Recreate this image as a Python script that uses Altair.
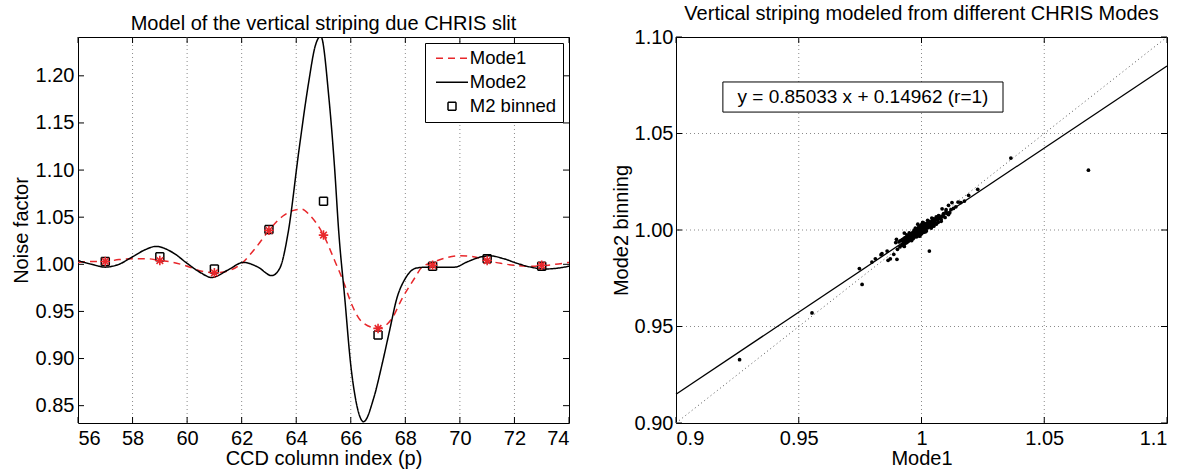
import altair as alt
import pandas as pd

FONT = "Liberation Sans"
RED = "#e8272b"

# ---------------- Left panel data ----------------
mode2_x = [56.0, 56.5, 57.0, 57.5, 58.0, 58.5, 58.85, 59.5, 60.0, 60.5, 60.9, 61.5, 62.07, 62.6,
           63.1, 63.4, 63.7, 64.1, 64.45, 64.7, 64.9, 65.2, 65.4, 65.56, 65.78, 66.0, 66.17,
           66.47, 66.84, 67.14, 67.41, 67.69, 68.0, 68.4, 68.8, 69.3, 69.8, 70.3, 70.8, 71.1,
           71.6, 72.1, 72.6, 73.1, 73.6, 74.0]
mode2_y = [1.004, 1.000, 0.997, 1.000, 1.008, 1.016, 1.019, 1.012, 1.001, 0.991, 0.986, 0.994, 1.002, 0.997,
           0.988, 0.996, 1.033, 1.121, 1.192, 1.232, 1.242, 1.176, 1.105, 1.034, 0.964, 0.893, 0.858,
           0.833, 0.858, 0.893, 0.928, 0.964, 0.985, 0.996, 0.997, 0.997, 0.997, 1.003, 1.008, 1.009,
           1.006, 1.001, 0.997, 0.995, 0.996, 0.998]

mode1_x = [56.0, 56.5, 57.0, 57.5, 58.0, 58.5, 59.0, 59.5, 60.0, 60.5, 61.0, 61.5, 62.0, 62.5,
           63.0, 63.5, 64.0, 64.2, 64.5, 65.0, 65.43, 65.74, 66.04, 66.41, 67.0, 67.51, 67.88,
           68.37, 68.61, 69.0, 69.5, 70.0, 70.5, 71.0, 71.5, 72.0, 72.5, 73.0, 73.5, 74.0]
mode1_y = [1.002, 1.003, 1.003, 1.005, 1.006, 1.006, 1.004, 1.002, 0.998, 0.993, 0.991, 0.993, 1.001, 1.017,
           1.036, 1.051, 1.058, 1.0585, 1.052, 1.031, 1.0025, 0.981, 0.957, 0.939, 0.932, 0.9425, 0.9636,
           0.9866, 0.997, 1.002, 1.007, 1.009, 1.008, 1.004, 1.001, 0.999, 0.998, 0.9985, 1.000, 1.002]

bin_x = [57, 59, 61, 63, 65, 67, 69, 71, 73]
mode1_pts_y = [1.003, 1.004, 0.991, 1.036, 1.031, 0.932, 0.999, 1.004, 0.999]
m2_binned_y = [1.003, 1.008, 0.995, 1.037, 1.067, 0.925, 0.998, 1.006, 0.998]

left_xticks = [56, 58, 60, 62, 64, 66, 68, 70, 72, 74]
left_yticks = [0.85, 0.90, 0.95, 1.00, 1.05, 1.10, 1.15, 1.20]
left_xdomain = [56, 74]
left_ydomain = [0.8316, 1.2412]
series_names = ["Mode1", "Mode2", "M2 binned"]

# ---------------- Right panel data ----------------
scatter_m1 = [0.9895, 0.9902, 0.9908, 0.9912, 0.9915, 0.9920, 0.9922, 0.9925, 0.9928, 0.9930,
              0.9933, 0.9935, 0.9937, 0.9940, 0.9942, 0.9944, 0.9946, 0.9948, 0.9950, 0.9952,
              0.9954, 0.9956, 0.9958, 0.9960, 0.9962, 0.9963, 0.9965, 0.9967, 0.9968, 0.9970,
              0.9971, 0.9973, 0.9974, 0.9976, 0.9977, 0.9979, 0.9980, 0.9982, 0.9983, 0.9985,
              0.9986, 0.9988, 0.9989, 0.9991, 0.9992, 0.9994, 0.9995, 0.9997, 0.9998, 1.0000,
              1.0001, 1.0003, 1.0004, 1.0006, 1.0007, 1.0009, 1.0011, 1.0013, 1.0015, 1.0017,
              1.0019, 1.0021, 1.0024, 1.0027, 1.0030, 1.0033, 1.0036, 1.0040, 1.0044, 1.0048,
              1.0052, 1.0057, 1.0062, 1.0068, 1.0074, 1.0080, 1.0088, 1.0096, 1.0105, 1.0115,
              1.0130, 1.0140, 1.0160, 1.0175,
              0.9965, 0.9975, 0.9985, 0.9995, 1.0005, 1.0015, 1.0025, 1.0035, 1.0045, 1.0055,
              1.0065, 1.0075, 1.0085, 0.9955, 0.9945, 0.9935, 0.9925, 1.0000, 0.9990, 0.9980,
              0.9970, 1.0010, 1.0020, 1.0030, 1.0060, 1.0070, 1.0090, 1.0100, 1.0120,
              0.9950, 0.9960, 0.9970, 0.9980, 0.9990, 1.0000, 1.0010, 1.0020, 1.0030, 1.0040,
              1.0050, 1.0060, 1.0070, 1.0080, 0.9985, 0.9995, 1.0005, 1.0015, 0.9975, 0.9965,
              0.9940, 0.9930, 1.0050, 1.0100, 1.0110, 1.0000, 1.0008, 0.9992, 1.0025, 1.0042,
              0.9930, 1.0032, 0.9900, 0.9873, 0.9839, 0.9812, 0.9798, 0.9747, 0.9758, 0.9554,
              0.9259, 1.0364, 1.0680, 1.0229, 1.0192, 1.0149, 1.0124, 1.0110, 1.0084, 1.0077,
              0.9835, 0.9860, 0.9864, 0.9887, 0.9898]
scatter_m2 = [0.9935, 0.9900, 0.9938, 0.9912, 0.9945, 0.9920, 0.9950, 0.9925, 0.9955, 0.9928,
              0.9960, 0.9932, 0.9958, 0.9935, 0.9965, 0.9940, 0.9968, 0.9943, 0.9972, 0.9948,
              0.9975, 0.9950, 0.9980, 0.9953, 0.9983, 0.9960, 0.9988, 0.9958, 0.9990, 0.9962,
              0.9992, 0.9968, 0.9996, 0.9970, 1.0000, 0.9972, 1.0003, 0.9975, 1.0005, 0.9978,
              1.0008, 0.9982, 1.0010, 0.9985, 1.0012, 0.9988, 1.0015, 0.9990, 1.0018, 0.9992,
              1.0020, 0.9995, 1.0022, 0.9998, 1.0025, 1.0002, 1.0028, 1.0005, 1.0030, 1.0008,
              1.0032, 1.0010, 1.0035, 1.0012, 1.0040, 1.0018, 1.0042, 1.0022, 1.0048, 1.0028,
              1.0055, 1.0035, 1.0060, 1.0040, 1.0066, 1.0055, 1.0078, 1.0065, 1.0085, 1.0090,
              1.0112, 1.0120, 1.0142, 1.0150,
              0.9972, 0.9982, 0.9992, 1.0000, 1.0008, 1.0018, 1.0025, 1.0032, 1.0038, 1.0048,
              1.0052, 1.0060, 1.0070, 0.9962, 0.9955, 0.9945, 0.9940, 1.0005, 0.9998, 0.9988,
              0.9978, 1.0015, 1.0022, 1.0028, 1.0068, 1.0072, 1.0085, 1.0095, 1.0105,
              0.9985, 0.9945, 1.0000, 0.9965, 1.0020, 0.9980, 1.0035, 0.9995, 1.0045, 1.0010,
              1.0058, 1.0030, 1.0075, 1.0045, 1.0030, 0.9975, 1.0040, 0.9990, 1.0010, 0.9955,
              0.9975, 0.9915, 1.0020, 1.0105, 1.0080, 1.0028, 0.9988, 0.9968, 1.0050, 1.0062,
              0.9984, 0.9891, 0.9848, 0.9851, 0.9877, 0.9851, 0.9834, 0.9800, 0.9718, 0.9570,
              0.9328, 1.0373, 1.0310, 1.0211, 1.0180, 1.0145, 1.0142, 1.0128, 1.0110, 1.0067,
              0.9872, 0.9891, 0.9843, 0.9874, 0.9952]

fit_x = [0.9, 1.1]
fit_y = [0.9149, 1.0850]
ident_x = [0.9, 1.1]
ident_y = [0.9, 1.1]
right_ticks = [0.9, 0.95, 1.0, 1.05, 1.1]
right_domain = [0.9, 1.1]
fit_label = "y = 0.85033 x + 0.14962 (r=1)"
label_box = {"x1": 0.9191, "x2": 1.0332, "y1": 1.0611, "y2": 1.0767}

W, H = 491, 386
TICK = 6
LBL = 20

# ---------------- Left panel ----------------
xs_l = alt.Scale(domain=left_xdomain, nice=False, zero=False)
ys_l = alt.Scale(domain=left_ydomain, nice=False, zero=False)
xax_l = alt.Axis(values=left_xticks, title="CCD column index (p)", format="d", grid=False,
                 ticks=False, tickSize=0, domain=False, labelPadding=5, titlePadding=0)
yax_l = alt.Axis(values=left_yticks, title="Noise factor", format=".2f", grid=False,
                 ticks=False, tickSize=0, domain=False, labelPadding=4, titlePadding=4)


def XL():
    return alt.X("x:Q", scale=xs_l, axis=xax_l)


def YL():
    return alt.Y("y:Q", scale=ys_l, axis=yax_l)


legend = alt.Legend(title=None, orient="none", legendX=347, legendY=6,
                    labelFont=FONT, labelFontSize=18.5, labelColor="black",
                    symbolSize=64, symbolStrokeWidth=1.5, symbolOffset=11.75, labelOffset=8.5,
                    symbolFillColor="white",
                    padding=6, rowPadding=5, strokeColor="black", fillColor="white",
                    cornerRadius=0)

color_scale = alt.Scale(domain=series_names, range=[RED, "black", "black"])
dash_scale = alt.Scale(domain=series_names, range=[[7, 5], [1, 0], [1, 0]])
shape_scale = alt.Scale(domain=series_names, range=["M-4,0L4,0", "M-4,0L4,0", "square"])

df_xt_l = pd.DataFrame({"x": left_xticks})
df_yt_l = pd.DataFrame({"y": left_yticks})

grid_l = alt.Chart(df_xt_l[(df_xt_l.x > 56) & (df_xt_l.x < 74)]).mark_rule(
    color="#8a8a8a", strokeDash=[1, 3], strokeWidth=1).encode(x=XL())
tk_b = alt.Chart(df_xt_l).mark_rule(color="black").encode(x=XL(), y=alt.value(H - TICK), y2=alt.value(H))
tk_t = alt.Chart(df_xt_l).mark_rule(color="black").encode(x=XL(), y=alt.value(0), y2=alt.value(TICK))
tk_l = alt.Chart(df_yt_l).mark_rule(color="black").encode(y=YL(), x=alt.value(0), x2=alt.value(TICK))
tk_r = alt.Chart(df_yt_l).mark_rule(color="black").encode(y=YL(), x=alt.value(W - TICK), x2=alt.value(W))

lines_df = pd.concat([
    pd.DataFrame({"x": mode1_x, "y": mode1_y, "series": "Mode1", "o": range(len(mode1_x))}),
    pd.DataFrame({"x": mode2_x, "y": mode2_y, "series": "Mode2", "o": range(len(mode2_x))}),
])
lines = alt.Chart(lines_df).mark_line(interpolate="monotone", strokeWidth=1.5, clip=True).encode(
    x=XL(), y=YL(),
    color=alt.Color("series:N", scale=color_scale, legend=legend),
    strokeDash=alt.StrokeDash("series:N", scale=dash_scale, legend=legend),
    order="o:Q",
)

bin_df = pd.DataFrame({"x": bin_x, "y": m2_binned_y, "series": "M2 binned"})
squares = alt.Chart(bin_df).mark_point(filled=False, strokeWidth=1.5, size=64, opacity=1).encode(
    x=XL(), y=YL(),
    color=alt.Color("series:N", scale=color_scale, legend=legend),
    shape=alt.Shape("series:N", scale=shape_scale, legend=legend),
    strokeDash=alt.StrokeDash("series:N", scale=dash_scale, legend=legend),
)

AST = "M-1,0L1,0M0,-1L0,1M-0.7,-0.7L0.7,0.7M-0.7,0.7L0.7,-0.7"
ast_df = pd.DataFrame({"x": bin_x, "y": mode1_pts_y})
asterisks = alt.Chart(ast_df).mark_point(shape=AST, filled=False, color=RED, strokeWidth=1.6,
                                         size=90, opacity=1).encode(x=XL(), y=YL())

left = alt.layer(grid_l, tk_b, tk_t, tk_l, tk_r, lines, squares, asterisks).properties(
    width=W, height=H, title="Model of the vertical striping due CHRIS slit")

# ---------------- Right panel ----------------
xs_r = alt.Scale(domain=right_domain, nice=False, zero=False)
ys_r = alt.Scale(domain=right_domain, nice=False, zero=False)
xax_r = alt.Axis(values=right_ticks, title="Mode1", format="~g", grid=False,
                 ticks=False, tickSize=0, domain=False, labelPadding=5, titlePadding=0)
yax_r = alt.Axis(values=right_ticks, title="Mode2 binning", format=".2f", grid=False,
                 ticks=False, tickSize=0, domain=False, labelPadding=3, titlePadding=3)


def XR(f="x"):
    return alt.X(f"{f}:Q", scale=xs_r, axis=xax_r)


def YR(f="y"):
    return alt.Y(f"{f}:Q", scale=ys_r, axis=yax_r)


df_xt_r = pd.DataFrame({"x": right_ticks})
df_yt_r = pd.DataFrame({"y": right_ticks})
gx_r = alt.Chart(df_xt_r.iloc[1:-1]).mark_rule(color="#8a8a8a", strokeDash=[1, 3]).encode(x=XR())
gy_r = alt.Chart(df_yt_r.iloc[1:-1]).mark_rule(color="#8a8a8a", strokeDash=[1, 3]).encode(y=YR())
rk_b = alt.Chart(df_xt_r).mark_rule(color="black").encode(x=XR(), y=alt.value(H - TICK), y2=alt.value(H))
rk_t = alt.Chart(df_xt_r).mark_rule(color="black").encode(x=XR(), y=alt.value(0), y2=alt.value(TICK))
rk_l = alt.Chart(df_yt_r).mark_rule(color="black").encode(y=YR(), x=alt.value(0), x2=alt.value(TICK))
rk_r = alt.Chart(df_yt_r).mark_rule(color="black").encode(y=YR(), x=alt.value(W - TICK), x2=alt.value(W))

ident = alt.Chart(pd.DataFrame({"x": ident_x, "y": ident_y})).mark_line(
    color="#555555", strokeDash=[1, 3], strokeWidth=1).encode(x=XR(), y=YR())
fit = alt.Chart(pd.DataFrame({"x": fit_x, "y": fit_y})).mark_line(
    color="black", strokeWidth=1.3).encode(x=XR(), y=YR())
pts = alt.Chart(pd.DataFrame({"x": scatter_m1, "y": scatter_m2})).mark_circle(
    color="black", size=14, opacity=1).encode(x=XR(), y=YR())

box = alt.Chart(pd.DataFrame([label_box])).mark_rect(
    fill="white", stroke="black", strokeWidth=1).encode(
    x=XR("x1"), x2="x2:Q", y=YR("y1"), y2="y2:Q")
txt = alt.Chart(pd.DataFrame({"x": [(label_box["x1"] + label_box["x2"]) / 2],
                              "y": [(label_box["y1"] + label_box["y2"]) / 2],
                              "t": [fit_label]})).mark_text(
    font=FONT, fontSize=19, color="black", align="center", baseline="middle").encode(
    x=XR(), y=YR(), text="t:N")

right = alt.layer(gx_r, gy_r, rk_b, rk_t, rk_l, rk_r, ident, fit, pts, box, txt).properties(
    width=W, height=H, title="Vertical striping modeled from different CHRIS Modes")

chart = alt.hconcat(left, right, spacing=107, bounds="flush").properties(
    padding={"left": 10, "top": 3, "right": 5, "bottom": 0},
    background="white",
).configure_view(stroke="black", strokeWidth=1).configure_axis(
    labelFont=FONT, titleFont=FONT, labelFontSize=LBL, titleFontSize=20,
    labelColor="black", titleColor="black", titleFontWeight="normal",
).configure_title(font=FONT, fontSize=20, fontWeight="normal", color="black", offset=3)

chart.save("out.html", embed_options={"renderer": "svg", "actions": False})
